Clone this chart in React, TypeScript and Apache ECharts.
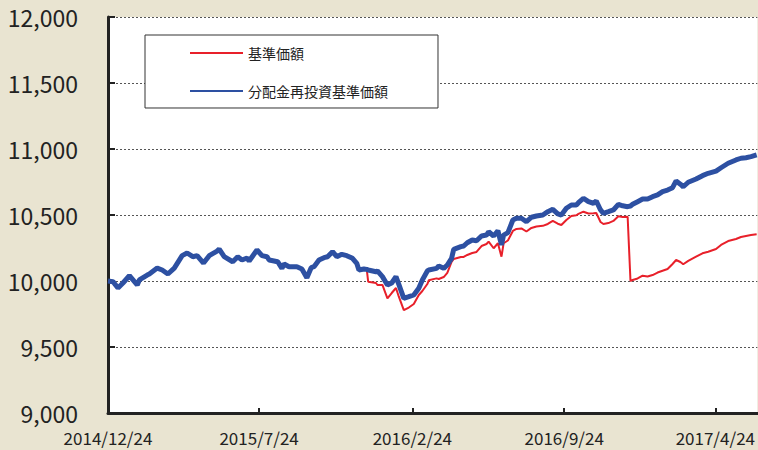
import React, { useEffect, useRef } from 'react';
import * as echarts from 'echarts';

const dates = [
  '2014-12-24', '2014-12-31', '2015-01-07', '2015-01-14', '2015-01-23', '2015-02-03', '2015-02-06', '2015-02-17', '2015-02-20', '2015-03-03',
  '2015-03-10', '2015-03-18', '2015-03-27', '2015-04-07', '2015-04-14', '2015-04-22', '2015-04-28', '2015-05-07', '2015-05-15', '2015-05-26',
  '2015-05-29', '2015-06-05', '2015-06-17', '2015-06-24', '2015-06-30', '2015-07-07', '2015-07-10', '2015-07-21', '2015-07-28', '2015-08-04',
  '2015-08-07', '2015-08-14', '2015-08-19', '2015-08-25', '2015-08-28', '2015-09-04', '2015-09-15', '2015-09-22', '2015-09-29', '2015-10-05',
  '2015-10-09', '2015-10-16', '2015-10-23', '2015-10-28', '2015-11-04', '2015-11-10', '2015-11-17', '2015-11-24', '2015-12-02', '2015-12-08',
  '2015-12-11', '2015-12-18', '2015-12-22', '2015-12-24', '2016-01-04', '2016-01-06', '2016-01-13', '2016-01-20', '2016-01-26', '2016-02-01',
  '2016-02-05', '2016-02-12', '2016-02-19', '2016-02-26', '2016-03-04', '2016-03-09', '2016-03-16', '2016-03-18', '2016-03-29', '2016-04-01',
  '2016-04-08', '2016-04-13', '2016-04-19', '2016-04-22', '2016-05-02', '2016-05-06', '2016-05-11', '2016-05-18', '2016-05-24', '2016-05-31',
  '2016-06-07', '2016-06-10', '2016-06-17', '2016-06-23', '2016-06-28', '2016-07-01', '2016-07-07', '2016-07-14', '2016-07-19', '2016-07-26',
  '2016-08-02', '2016-08-09', '2016-08-16', '2016-08-25', '2016-09-01', '2016-09-08', '2016-09-15', '2016-09-20', '2016-09-27', '2016-10-04',
  '2016-10-11', '2016-10-14', '2016-10-21', '2016-10-28', '2016-11-04', '2016-11-08', '2016-11-14', '2016-11-18', '2016-11-25', '2016-12-02',
  '2016-12-09', '2016-12-15', '2016-12-22', '2016-12-26', '2016-12-29', '2017-01-05', '2017-01-12', '2017-01-19', '2017-01-26', '2017-02-02',
  '2017-02-09', '2017-02-16', '2017-02-23', '2017-02-28', '2017-03-06', '2017-03-10', '2017-03-17', '2017-03-28', '2017-04-06', '2017-04-14',
  '2017-04-25', '2017-05-02', '2017-05-12', '2017-05-23', '2017-05-30', '2017-06-06', '2017-06-13', '2017-06-21',
];

// 基準価額
const nav = [
  10000, 9995, 9947, 9985, 10040, 9970, 10008, 10045, 10053, 10098,
  10083, 10053, 10098, 10192, 10212, 10184, 10192, 10136, 10192, 10227,
  10242, 10184, 10146, 10184, 10159, 10174, 10152, 10235, 10192, 10184,
  10159, 10152, 10146, 10096, 10129, 10108, 10108, 10091, 10025, 10101,
  10108, 10159, 10177, 10184, 10222, 10184, 10202, 10192, 10172, 10134,
  10083, 10091, 10088, 9995, 9985, 9970, 9970, 9869, 9909, 9947,
  9881, 9780, 9799, 9826, 9894, 9924, 9977, 10005, 10020, 10015,
  10030, 10061, 10144, 10167, 10182, 10182, 10197, 10212, 10220, 10265,
  10280, 10298, 10248, 10286, 10184, 10286, 10307, 10379, 10394, 10398,
  10375, 10402, 10413, 10418, 10432, 10455, 10434, 10424, 10462, 10492,
  10498, 10508, 10525, 10511, 10513, 10515, 10447, 10432, 10439, 10455,
  10491, 10485, 10487, 10000, 10008, 10019, 10040, 10034, 10045, 10064,
  10078, 10091, 10129, 10159, 10144, 10127, 10152, 10184, 10210, 10222,
  10242, 10273, 10303, 10318, 10333, 10341, 10348, 10354,
];

// 分配金再投資基準価額
const navReinvested = [
  10000, 9995, 9947, 9985, 10040, 9970, 10008, 10045, 10053, 10098,
  10083, 10053, 10098, 10192, 10212, 10184, 10192, 10136, 10192, 10227,
  10242, 10184, 10146, 10184, 10159, 10174, 10152, 10235, 10192, 10184,
  10159, 10152, 10146, 10096, 10129, 10108, 10108, 10091, 10025, 10101,
  10108, 10159, 10177, 10184, 10222, 10184, 10202, 10192, 10172, 10134,
  10083, 10091, 10088, 10083, 10070, 10076, 10033, 9970, 9985, 10033,
  9975, 9869, 9881, 9894, 9945, 10008, 10076, 10083, 10096, 10114,
  10096, 10121, 10172, 10240, 10260, 10265, 10290, 10311, 10305, 10341,
  10348, 10373, 10341, 10381, 10273, 10348, 10366, 10462, 10475, 10475,
  10449, 10483, 10492, 10500, 10525, 10543, 10508, 10500, 10551, 10576,
  10576, 10593, 10627, 10601, 10589, 10606, 10538, 10513, 10525, 10538,
  10581, 10570, 10563, 10568, 10581, 10601, 10621, 10621, 10639, 10652,
  10677, 10689, 10707, 10758, 10733, 10714, 10748, 10773, 10798, 10816,
  10833, 10858, 10892, 10917, 10930, 10934, 10942, 10955,
];

const tickDates = ['2014-12-24', '2015-07-24', '2016-02-24', '2016-09-24', '2017-04-24'];
const axisStart = '2014-12-24';
const axisEnd = '2017-06-22';
const seriesNames = ['基準価額', '分配金再投資基準価額'];

function toTs(s: string): number {
  const [y, m, d] = s.split('-').map(Number);
  return new Date(y, m - 1, d).getTime();
}

export default function App() {
  const ref = useRef<HTMLDivElement>(null);
  useEffect(() => {
    if (!ref.current) return;
    const chart = echarts.init(ref.current, null, { renderer: 'svg' });
    const tickValues = tickDates.map(toTs);
    const font = "'Noto Sans CJK JP', 'Noto Sans', sans-serif";
    chart.setOption({
      animation: false,
      backgroundColor: '#e9e4d1',
      textStyle: { fontFamily: font },
      grid: {
        left: 108, right: 0, top: 17, bottom: 37,
        show: true, backgroundColor: '#ffffff', borderWidth: 0,
      },
      legend: {
        orient: 'vertical',
        left: 145,
        top: 35,
        data: seriesNames,
        itemWidth: 53,
        itemHeight: 14,
        itemGap: 24,
        padding: [11, 50, 10, 44],
        backgroundColor: '#ffffff',
        borderColor: '#333333',
        borderWidth: 1,
        itemStyle: { opacity: 0 },
        textStyle: { fontSize: 14, color: '#222', fontFamily: font },
      },
      xAxis: {
        type: 'value',
        min: toTs(axisStart),
        max: toTs(axisEnd),
        axisLine: { show: true, lineStyle: { color: '#222', width: 3 } },
        axisTick: { show: true, inside: true, length: 5, lineStyle: { color: '#222', width: 2 }, customValues: tickValues },
        axisLabel: {
          customValues: tickValues,
          fontSize: 17,
          color: '#222',
          margin: 16,
          fontFamily: font,
          formatter: (v: number) => {
            const d = new Date(v);
            return `${d.getFullYear()}/${d.getMonth() + 1}/${d.getDate()}`;
          },
        },
        splitLine: { show: false },
      },
      yAxis: {
        type: 'value',
        min: 9000,
        max: 12000,
        interval: 500,
        axisLine: { show: true, lineStyle: { color: '#222', width: 3 } },
        axisTick: { show: true, inside: true, length: 7, lineStyle: { color: '#222', width: 2 } },
        axisLabel: {
          fontSize: 23,
          color: '#222',
          margin: 30,
          fontFamily: font,
          formatter: (v: number) => v.toLocaleString('en-US'),
        },
        splitLine: { show: true, lineStyle: { color: '#555', width: 1, type: [2, 2] } },
      },
      series: [
        {
          name: seriesNames[0],
          type: 'line',
          symbol: 'none',
          data: dates.map((d, i) => [toTs(d), nav[i]]),
          lineStyle: { color: '#e8202a', width: 2 },
          itemStyle: { color: '#e8202a' },
        },
        {
          name: seriesNames[1],
          type: 'line',
          symbol: 'none',
          data: dates.map((d, i) => [toTs(d), navReinvested[i]]),
          lineStyle: { color: '#2d50a2', width: 5 },
          itemStyle: { color: '#2d50a2' },
        },
      ],
    });
    return () => chart.dispose();
  }, []);
  return <div ref={ref} style={{ position: 'fixed', left: 0, top: 0, width: 758, height: 450 }} />;
}
